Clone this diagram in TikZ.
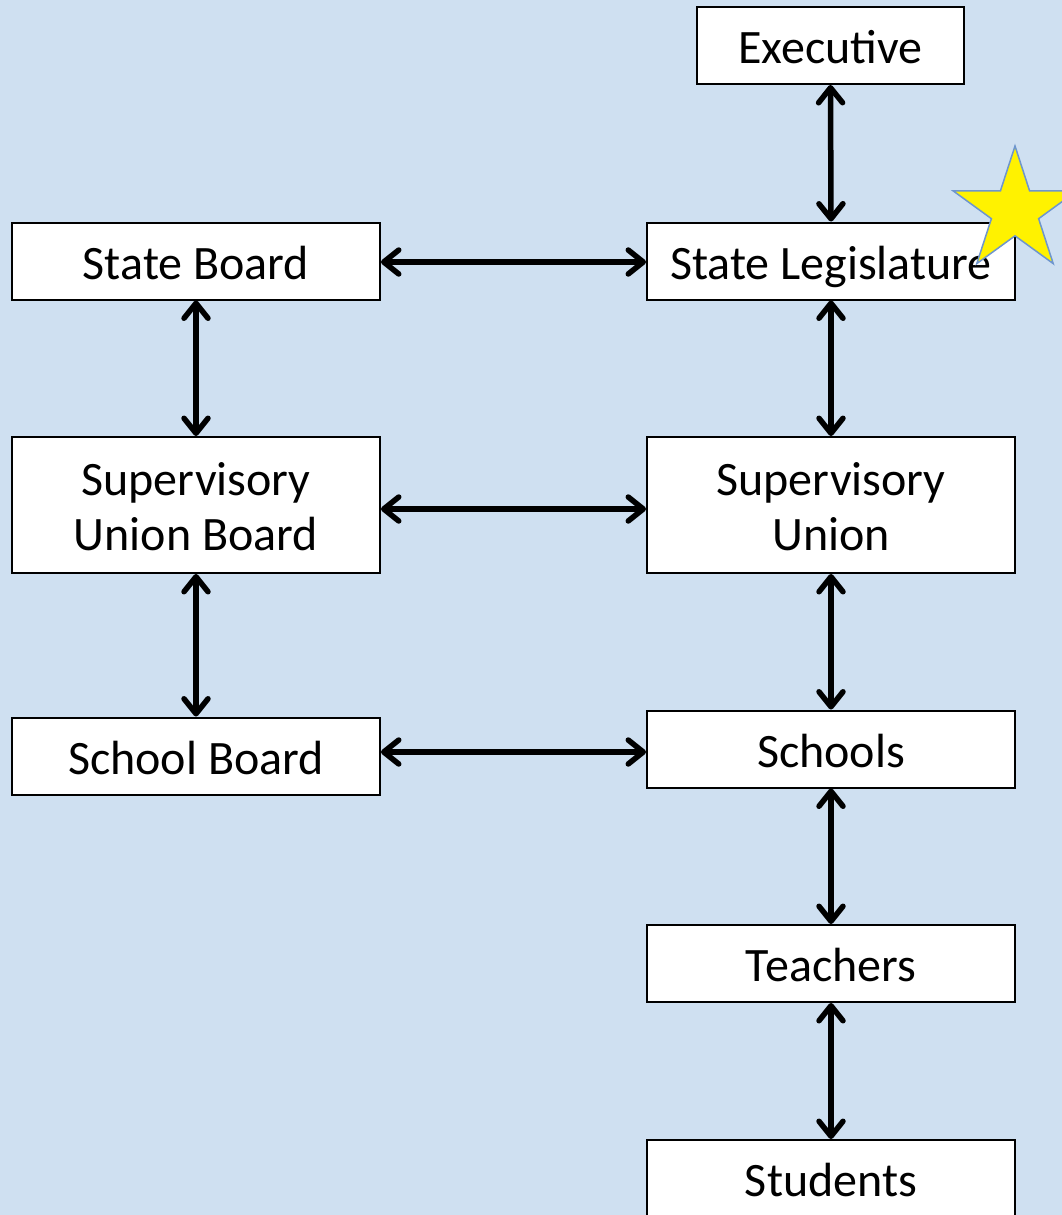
\documentclass[tikz,border=0pt]{standalone}
\usepackage{fontspec}
\setmainfont{Carlito}
\usetikzlibrary{arrows.meta,shapes.geometric}
\definecolor{bgblue}{RGB}{207,224,241}
\definecolor{staredge}{RGB}{110,150,205}
\tikzset{barbtip/.tip={Straight Barb[length=15pt,width=24pt,line cap=round,line join=round]}}
\begin{document}
\begin{tikzpicture}[x=1pt,y=-1pt,
  box/.style={draw=black,line width=2pt,fill=white,minimum width=368pt,minimum height=77pt,
    align=center,inner sep=0pt,text height=36pt,text depth=0pt,
    font=\fontsize{48}{55}\selectfont},
  tallbox/.style={box,minimum height=136pt,text height=90pt,text depth=0pt},
  link/.style={line width=5.5pt,barbtip-barbtip}]
% page background
\fill[bgblue] (0,0) rectangle (1062,1215);
\useasboundingbox (0,0) rectangle (1062,1215);

% right column
\node[box,minimum width=267pt] (exec) at (830.5,45.5) {Executive};
\node[box] (leg) at (831,261) {State Legislature};
\node[tallbox] (su) at (831,505) {Supervisory\\Union};
\node[box] (schools) at (831,749) {Schools};
\node[box] (teach) at (831,963.5) {Teachers};
\node[box] (stud) at (831,1178.5) {Students};

% left column
\node[box] (sboard) at (196,261) {State Board};
\node[tallbox] (sub) at (196,505) {Supervisory\\Union Board};
\node[box] (schb) at (196,756) {School Board};

% vertical links
\draw[link] (exec.south) -- (leg.north);
\draw[link] (leg.south) -- (su.north);
\draw[link] (su.south) -- (schools.north);
\draw[link] (schools.south) -- (teach.north);
\draw[link] (teach.south) -- (stud.north);
\draw[link] (sboard.south) -- (sub.north);
\draw[link] (sub.south) -- (schb.north);

% horizontal links
\draw[link] ([yshift=-1pt]sboard.east) -- ([yshift=-1pt]leg.west);
\draw[link] ([yshift=-4pt]sub.east) -- ([yshift=-4pt]su.west);
\draw[link] ([yshift=4pt]schb.east) -- ([yshift=-3pt]schools.west);

% star marker
\node[star,star points=5,star point ratio=2.618,minimum size=130pt,inner sep=0pt,
  fill=yellow,draw=staredge,line width=1.5pt] (mark) at (1015,211) {};
\end{tikzpicture}
\end{document}
